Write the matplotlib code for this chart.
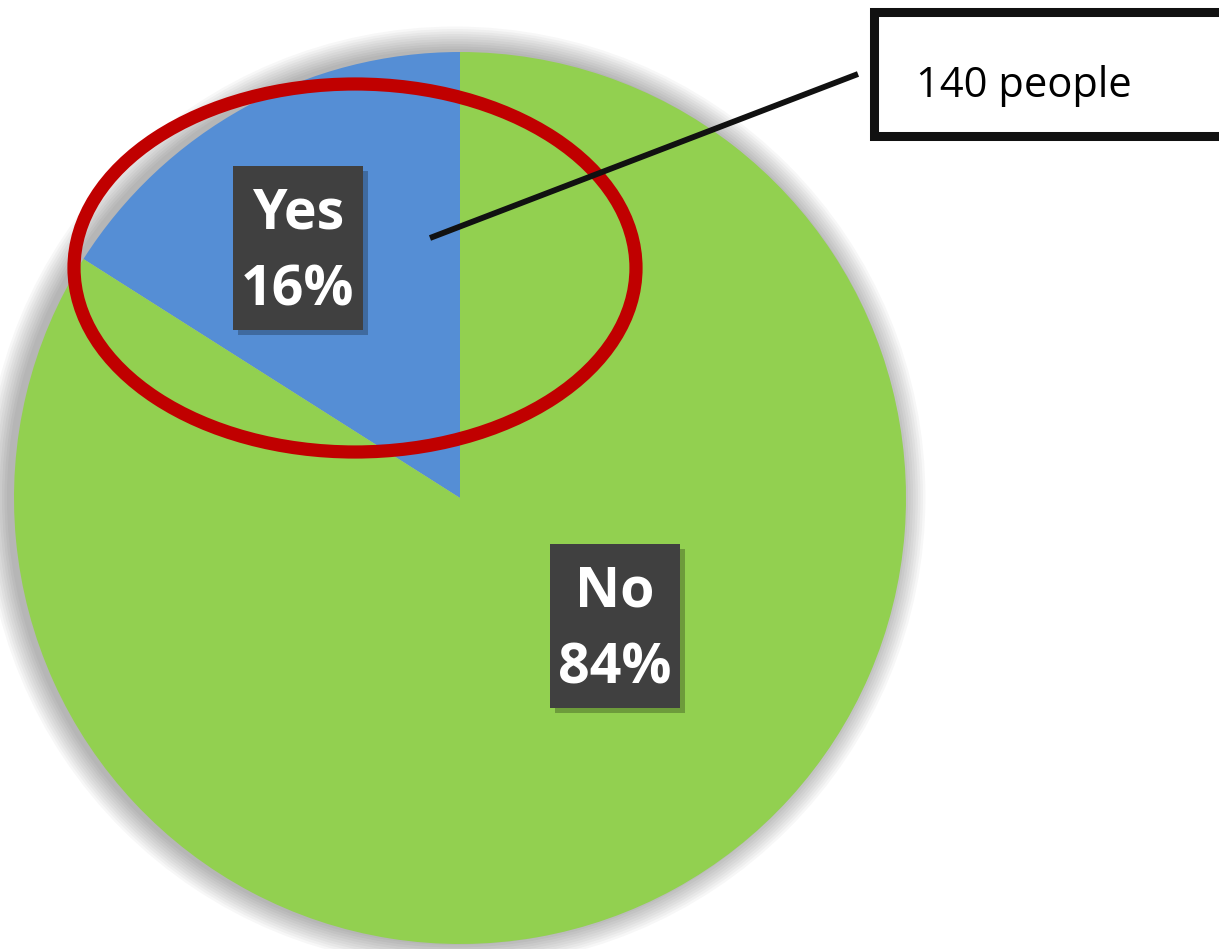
import matplotlib.pyplot as plt
from matplotlib.patches import Ellipse, Circle, Rectangle

labels = ['Yes', 'No']
values = [16, 84]
colors = ['#558ED5', '#92D050']
callout = '140 people'

W, H = 1219, 949

fig = plt.figure(figsize=(W / 100, H / 100), dpi=100)
ax = fig.add_axes([0, 0, 1, 1])
ax.set_xlim(0, W)
ax.set_ylim(0, H)
ax.set_aspect('equal')
ax.axis('off')

cx, cy, r = 460, H - 498, 446

# soft shadow behind the pie
for i in range(10):
    ax.add_patch(Circle((cx - 5, cy + 1), r + 2 + i * 2.5, color='#000000',
                        alpha=0.03, lw=0, zorder=0))

ax.pie(values, colors=colors, startangle=90, counterclock=True,
       center=(cx, cy), radius=r, frame=True,
       wedgeprops=dict(linewidth=0))
ax.set_xlim(0, W)
ax.set_ylim(0, H)
ax.axis('off')

# data labels (dark boxes)
def label_box(x0, y0, w, h, line1, line2):
    yb = H - y0 - h
    ax.add_patch(Rectangle((x0 + 5, yb - 5), w, h, color='#000000', alpha=0.25, lw=0, zorder=3))
    ax.add_patch(Rectangle((x0, yb), w, h, color='#404040', lw=0, zorder=4))
    ax.text(x0 + w / 2, yb + h * 0.71, line1, color='white', fontsize=40, fontweight='bold',
            family='Open Sans', ha='center', va='center', zorder=5)
    ax.text(x0 + w / 2, yb + h * 0.24, line2, color='white', fontsize=40, fontweight='bold',
            family='Open Sans', ha='center', va='center', zorder=5)

label_box(233, 166, 130, 164, labels[0], f'{values[0]}%')
label_box(550, 544, 130, 164, labels[1], f'{values[1]}%')

# red highlight ellipse
ax.add_patch(Ellipse((355, H - 268), 562, 368, fill=False, edgecolor='#C00000',
                     linewidth=9.5, zorder=6))

# callout line and box
ax.plot([430, 858], [H - 238, H - 74], color='#111111', linewidth=4.2,
        solid_capstyle='butt', zorder=7)
ax.add_patch(Rectangle((874, H - 136), 360, 124, facecolor='white', edgecolor='#111111',
                       linewidth=6.5, zorder=7))
ax.text(916, H - 86, callout, fontsize=30, family='Open Sans', color='black',
        ha='left', va='center', zorder=8)

fig.savefig('out.png', dpi=100)
